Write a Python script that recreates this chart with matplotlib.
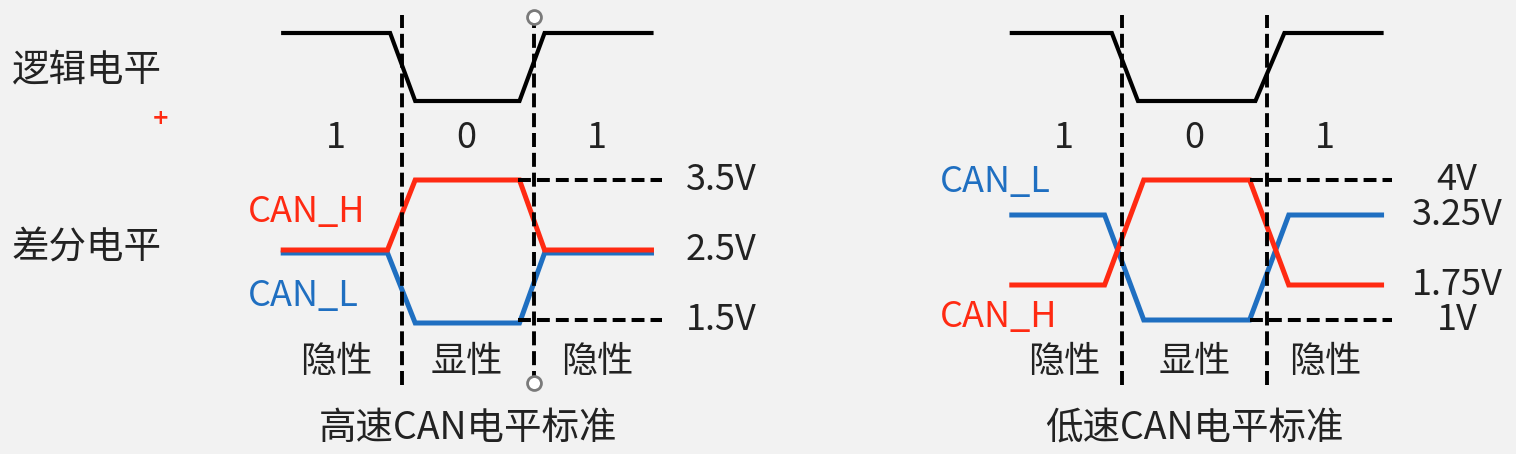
import matplotlib
matplotlib.use("Agg")
import matplotlib.pyplot as plt
from matplotlib.transforms import blended_transform_factory, offset_copy

plt.rcParams['font.family'] = ['Noto Sans CJK SC', 'DejaVu Sans']
plt.rcParams['font.weight'] = 'light'

W, H = 1516, 454
BG = '#f2f2f2'
RED = '#ff2a12'
BLUE = '#1f6fc1'
INK = '#222222'

# ---- data ----
bits = ['1', '0', '1']
bit_names = ['隐性', '显性', '隐性']
logic_level = [1, 1, 0, 0, 1, 1]

# high speed CAN (time in bit units)
hs_logic_t = [0.10, 0.91, 1.10, 1.89, 2.08, 2.89]
hs_diff_t = [0.10, 0.89, 1.10, 1.89, 2.08, 2.89]
hs_can_h = [2.5, 2.5, 3.5, 3.5, 2.5, 2.5]
hs_can_l = [2.5, 2.5, 1.5, 1.5, 2.5, 2.5]
hs_ref = [3.5, 1.5]
hs_ticks = [3.5, 2.5, 1.5]
hs_tick_labels = ['3.5V', '2.5V', '1.5V']

# low speed CAN
ls_logic_t = [0.24, 0.93, 1.11, 1.92, 2.12, 2.79]
ls_diff_t = [0.24, 0.88, 1.15, 1.88, 2.15, 2.79]
ls_can_h = [1.75, 1.75, 4, 4, 1.75, 1.75]
ls_can_l = [3.25, 3.25, 1, 1, 3.25, 3.25]
ls_ref = [4, 1]
ls_ticks = [4, 3.25, 1.75, 1]
ls_tick_labels = ['4V', '3.25V', '1.75V', '1V']

fig = plt.figure(figsize=(W / 100, H / 100), dpi=100, facecolor=BG)

FS = 26


def panel(x0, bitw, vtop, vbot, t_logic, t_diff, can_h, can_l, ref, ticks,
          tick_labels, ref_x, tick_x, tick_ha, label_x, h_y, l_y,
          bit_x, title, title_x, offset_blue, handles):
    ax = fig.add_axes([x0 / W, 0, 3 * bitw / W, 1])
    ax.set_xlim(0, 3)
    # volts -> pixel rows: vtop at y=180, vbot at y=320
    ppv = (320 - 180) / (vtop - vbot)
    ax.set_ylim(vtop - (H - 180) / ppv, vtop + 180 / ppv)
    ax.axis('off')
    ax.patch.set_visible(False)

    lg = ax.twinx()
    lg.set_ylim(1 - (H - 33) / 68, 1 + 33 / 68)
    lg.axis('off')

    lg.plot(t_logic, logic_level, color='black', lw=3.0,
            solid_joinstyle='miter', zorder=3)

    tr_l = ax.transData
    if offset_blue:
        tr_l = offset_copy(ax.transData, fig=fig, y=-3, units='dots')
    ax.plot(t_diff, can_l, color=BLUE, lw=3.6, transform=tr_l,
            solid_joinstyle='miter', zorder=3)
    ax.plot(t_diff, can_h, color=RED, lw=3.6,
            solid_joinstyle='miter', zorder=4)

    for v in ref:
        ax.plot(ref_x, [v, v], color='black', lw=2.9,
                dashes=(3.2, 1.5), zorder=5)

    for b in [1, 2]:
        ax.axvline(b, ymin=(H - 385) / H, ymax=(H - 15) / H,
                   color='black', lw=2.8, dashes=(3.6, 1.5), zorder=5)

    if handles:
        ax.plot([2, 2], [(H - 17) / H, (H - 383) / H], linestyle='none',
                marker='o', ms=10, mfc='white', mec='#7a7a7a', mew=2,
                transform=blended_transform_factory(ax.transData, ax.transAxes),
                zorder=6, clip_on=False)

    bt = blended_transform_factory(ax.transData, ax.transAxes)
    for x, s in zip(bit_x, bits):
        ax.text(x, 1 - 138 / H, s, transform=bt, ha='center', va='center',
                fontsize=FS, color=INK)
    for x, s in zip(bit_x, bit_names):
        ax.text(x, 1 - 362 / H, s, transform=bt, ha='center', va='center',
                fontsize=FS, color=INK)
    ax.text(title_x, 1 - 428 / H, title, transform=bt, ha='center',
            va='center', fontsize=FS + 1, color=INK)

    for v, s in zip(ticks, tick_labels):
        ax.text(tick_x, v, s, ha=tick_ha, va='center', fontsize=FS, color=INK)

    ax.text(label_x, h_y, 'CAN_H', transform=bt, ha='left', va='center',
            fontsize=FS, color=RED)
    ax.text(label_x, l_y, 'CAN_L', transform=bt, ha='left', va='center',
            fontsize=FS, color=BLUE)


panel(270, 132, 3.5, 1.5, hs_logic_t, hs_diff_t, hs_can_h, hs_can_l, hs_ref,
      hs_ticks, hs_tick_labels, [1.88, 2.97], 3.15, 'left', -0.17,
      1 - 212 / H, 1 - 296 / H, [0.5, 1.49, 2.48], '高速CAN电平标准', 1.5,
      True, True)

panel(977, 145, 4, 1, ls_logic_t, ls_diff_t, ls_can_h, ls_can_l, ls_ref,
      ls_ticks, ls_tick_labels, [1.88, 2.86], 3.31, 'center', -0.255,
      1 - 317 / H, 1 - 182 / H, [0.6, 1.5, 2.4], '低速CAN电平标准', 1.5,
      False, False)

fig.text(12 / W, 1 - 70 / H, '逻辑电平', ha='left', va='center',
         fontsize=FS + 1, color=INK)
fig.text(12 / W, 1 - 248 / H, '差分电平', ha='left', va='center',
         fontsize=FS + 1, color=INK)
fig.text(161 / W, 1 - 118 / H, '+', ha='center', va='center',
         fontsize=15, fontweight='bold', color=RED, family='DejaVu Sans')

fig.savefig('out.png', dpi=100, facecolor=BG)
